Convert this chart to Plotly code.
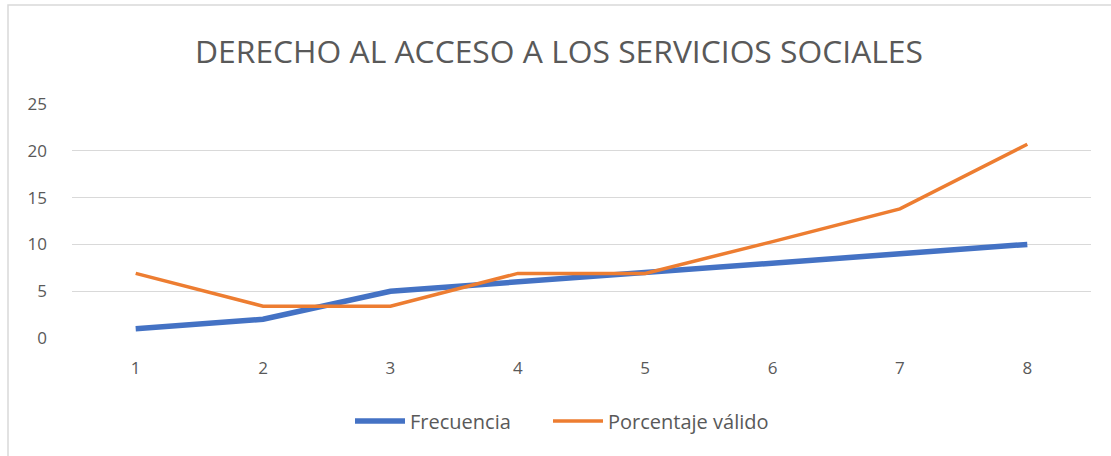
import plotly.graph_objects as go

categories = [1, 2, 3, 4, 5, 6, 7, 8]
frecuencia = [1, 2, 5, 6, 7, 8, 9, 10]
porcentaje_valido = [6.9, 3.4, 3.4, 6.9, 6.9, 10.3, 13.8, 20.7]
y_ticks = [0, 5, 10, 15, 20, 25]
title_text = "DERECHO AL ACCESO A LOS SERVICIOS SOCIALES"

W, H = 1111, 456
ML, MR, MT, MB = 72, 20, 104, 118
FONT = "Open Sans"
GREY = "#595959"

fig = go.Figure()
fig.add_trace(go.Scatter(x=categories, y=frecuencia, name="Frecuencia", mode="lines",
                         line=dict(color="#4472C4", width=5.5), legend="legend"))
fig.add_trace(go.Scatter(x=categories, y=porcentaje_valido, name="Porcentaje válido", mode="lines",
                         line=dict(color="#ED7D31", width=3.5), legend="legend2"))

pw = W - ML - MR
ph = H - MT - MB
fig.add_shape(type="rect", xref="paper", yref="paper",
              x0=(8 - ML) / pw, x1=(W + 20 - ML) / pw,
              y0=(H - MB - (H + 20)) / ph, y1=(H - MB - 5) / ph,
              line=dict(color="#D9D9D9", width=1.5), fillcolor="rgba(0,0,0,0)", layer="below")

leg_common = dict(orientation="h", xanchor="left", y=(H - MB - 421) / ph, yanchor="middle",
                  font=dict(family=FONT, size=20, color=GREY), itemwidth=50,
                  bgcolor="rgba(0,0,0,0)")

fig.update_layout(
    width=W, height=H,
    margin=dict(l=ML, r=MR, t=MT, b=MB),
    paper_bgcolor="white", plot_bgcolor="white",
    font=dict(family=FONT, color=GREY, size=17),
    title=dict(text=title_text, x=(559 - ML) / pw, xref="paper", xanchor="center",
               y=(H - 52) / H, yref="container", yanchor="middle",
               font=dict(family=FONT, size=31.8, color=GREY)),
    xaxis=dict(range=[0.5, 8.5], tickvals=categories, showgrid=False, zeroline=False,
               showline=False, ticks="", ticklabelstandoff=18,
               tickfont=dict(family=FONT, size=17, color=GREY), fixedrange=True),
    yaxis=dict(range=[0, 25], tickvals=y_ticks, showgrid=True, gridcolor="#D9D9D9", gridwidth=1,
               zeroline=False, showline=False, ticks="", ticklabelstandoff=24,
               tickfont=dict(family=FONT, size=17, color=GREY), fixedrange=True),
    showlegend=True,
    legend=dict(x=(357 - 7 - ML) / pw, **leg_common),
    legend2=dict(x=(555 - 7 - ML) / pw, **leg_common),
)
fig.write_html("out.html", config={"displayModeBar": False},
               post_script="document.body.style.margin='0';")
